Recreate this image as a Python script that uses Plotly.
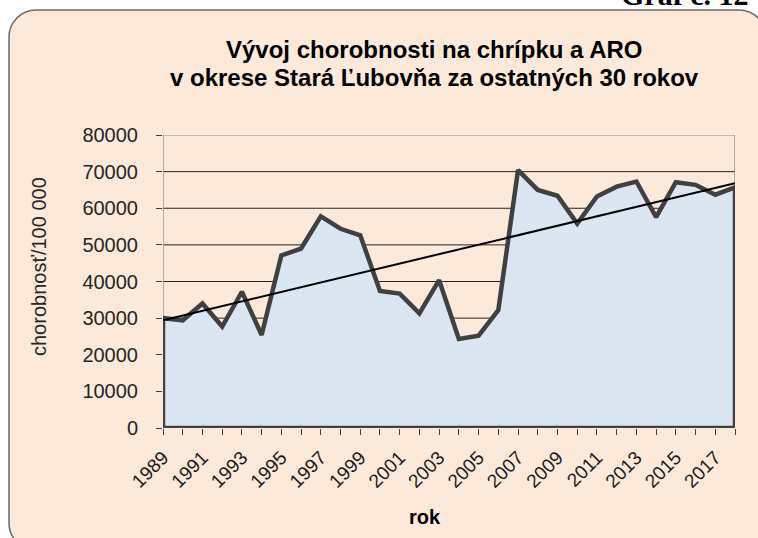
import numpy as np
import plotly.graph_objects as go

# ---- data ----
years = list(range(1989, 2019))
incidence = [30000, 29400, 34000, 27700, 37200, 25400, 47100, 49000, 57800, 54400,
             52600, 37400, 36700, 31300, 40350, 24300, 25200, 32200, 70400, 65000,
             63400, 55800, 63200, 65900, 67300, 57600, 67100, 66400, 63700, 65700]
x_tick_labels = [str(y) if (y - 1989) % 2 == 0 else "" for y in years]
y_ticks = [0, 10000, 20000, 30000, 40000, 50000, 60000, 70000, 80000]
title_lines = ["Vývoj chorobnosti na chrípku a ARO",
               "v okrese Stará Ľubovňa za ostatných 30 rokov"]
y_title = "chorobnosť/100 000"
x_title = "rok"
corner_text = "Graf č. 12"

# ---- geometry (pixels) ----
W, H = 758, 538
L, R, T, B = 163, 735, 135, 428
PW, PH = R - L, B - T


def px(x):
    return (x - L) / PW


def py(y):
    return (B - y) / PH


# trend line (linear least squares)
coef = np.polyfit(years, incidence, 1)
trend = np.polyval(coef, [years[0], years[-1]])

fig = go.Figure()

# area polygon (outline all around like Excel area)
poly_x = [years[0]] + years + [years[-1], years[0]]
poly_y = [0] + incidence + [0, 0]
fig.add_trace(go.Scatter(
    x=poly_x, y=poly_y, mode="lines", fill="toself",
    fillcolor="#DCE6F2", line=dict(color="#404040", width=4.5),
    cliponaxis=False, hoverinfo="skip", showlegend=False))

fig.add_trace(go.Scatter(
    x=[years[0], years[-1]], y=list(trend), mode="lines",
    line=dict(color="#000000", width=2), showlegend=False, hoverinfo="skip"))

shapes = []
# rounded chart box
x0, y0, x1, y1, r = 9, 10, 766, 550, 27
k = 0.45
path = (f"M {px(x0 + r)},{py(y0)} L {px(x1 - r)},{py(y0)} "
        f"C {px(x1 - r * k)},{py(y0)} {px(x1)},{py(y0 + r * k)} {px(x1)},{py(y0 + r)} "
        f"L {px(x1)},{py(y1 - r)} "
        f"C {px(x1)},{py(y1 - r * k)} {px(x1 - r * k)},{py(y1)} {px(x1 - r)},{py(y1)} "
        f"L {px(x0 + r)},{py(y1)} "
        f"C {px(x0 + r * k)},{py(y1)} {px(x0)},{py(y1 - r * k)} {px(x0)},{py(y1 - r)} "
        f"L {px(x0)},{py(y0 + r)} "
        f"C {px(x0)},{py(y0 + r * k)} {px(x0 + r * k)},{py(y0)} {px(x0 + r)},{py(y0)} Z")
shapes.append(dict(type="path", path=path, xref="paper", yref="paper",
                   fillcolor="#FDE9DA", line=dict(color="#6a6a6a", width=1.5),
                   layer="below"))
# gridlines (below traces)
for v in y_ticks[1:-1]:
    shapes.append(dict(type="line", xref="x", yref="y", x0=years[0], x1=years[-1],
                       y0=v, y1=v, line=dict(color="#262626", width=1), layer="below"))
# plot-area border
shapes.append(dict(type="rect", xref="x", yref="y", x0=years[0], x1=years[-1],
                   y0=0, y1=y_ticks[-1], line=dict(color="#8a8a8a", width=1.2),
                   layer="below"))

annotations = [
    dict(text=f"<b>{title_lines[0]}</b>", x=px(434), y=py(49.5), xref="paper", yref="paper",
         showarrow=False, xanchor="center", yanchor="middle",
         font=dict(family="Liberation Sans", size=24, color="#000000")),
    dict(text=f"<b>{title_lines[1]}</b>", x=px(434.5), y=py(77.5), xref="paper", yref="paper",
         showarrow=False, xanchor="center", yanchor="middle",
         font=dict(family="Liberation Sans", size=24, color="#000000")),
    dict(text=y_title, x=px(39), y=py(267), xref="paper", yref="paper", textangle=-90,
         showarrow=False, xanchor="center", yanchor="middle",
         font=dict(family="Liberation Sans", size=20, color="#262626")),
    dict(text=f"<b>{x_title}</b>", x=px(425), y=py(517), xref="paper", yref="paper",
         showarrow=False, xanchor="center", yanchor="middle",
         font=dict(family="Liberation Sans", size=20, color="#000000")),
    dict(text=f"<b>{corner_text}</b>", x=px(750), y=py(13), xref="paper", yref="paper",
         showarrow=False, xanchor="right", yanchor="bottom",
         font=dict(family="Liberation Serif", size=30, color="#000000")),
]

fig.update_layout(
    width=W, height=H,
    margin=dict(l=L, r=W - R, t=T, b=H - B, pad=0),
    paper_bgcolor="#FFFFFF", plot_bgcolor="#FFFFFF",
    showlegend=False,
    shapes=shapes, annotations=annotations,
    xaxis=dict(range=[years[0], years[-1]], tickmode="array", tickvals=years,
               ticktext=x_tick_labels, tickangle=-45, ticks="outside", ticklen=6,
               tickcolor="#404040", tickwidth=1.2, showgrid=False, zeroline=False,
               showline=False, ticklabelstandoff=4,
               tickfont=dict(family="Liberation Sans", size=19, color="#1a1a1a")),
    yaxis=dict(range=[0, y_ticks[-1]], tickmode="array", tickvals=y_ticks,
               ticktext=[str(v) for v in y_ticks], ticks="outside", ticklen=6,
               tickcolor="#404040", tickwidth=1.2, showgrid=False, zeroline=False,
               showline=False, ticklabelstandoff=14,
               tickfont=dict(family="Liberation Sans", size=20, color="#262626")),
)

fig.write_html("out.html",
               config={"displayModeBar": False},
               post_script="document.body.style.margin='0px';")
